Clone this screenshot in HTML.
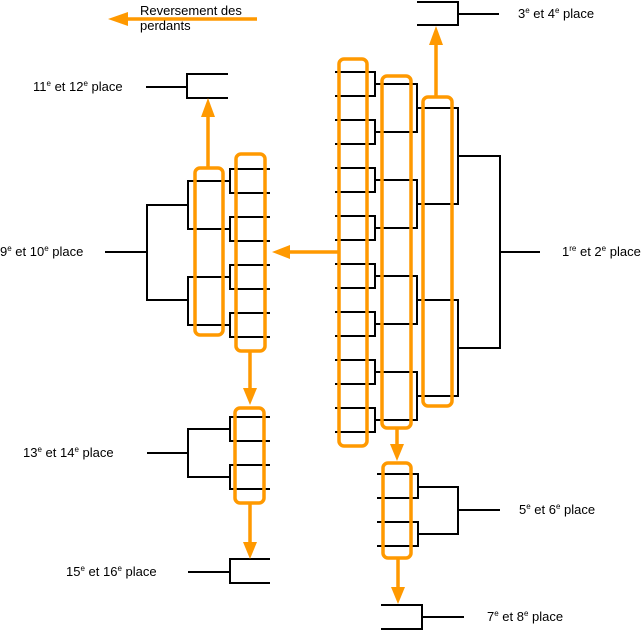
<!DOCTYPE html>
<html><head><meta charset="utf-8"><style>
html,body{margin:0;padding:0;background:#fff;}
svg{display:block;}
text{font-family:"Liberation Sans",Arial,sans-serif;font-size:13px;fill:#000;}
</style></head><body>
<svg width="642" height="631" viewBox="0 0 642 631" xmlns="http://www.w3.org/2000/svg">
<g stroke="#000" stroke-width="2" fill="none">
<path d="M335 72H375V96H335 M335 120H375V144H335 M335 168H375V192H335 M335 216H375V240H335 M335 264H375V288H335 M335 312H375V336H335 M335 360H375V384H335 M335 408H375V432H335"/>
<path d="M375 84H417V132H375 M375 180H417V228H375 M375 276H417V324H375 M375 372H417V420H375"/>
<path d="M417 108H458V204H417 M417 300H458V396H417"/>
<path d="M458 156H500V348H458 M500 252H540"/>
<path d="M417 2H458V25H417 M458 14H499"/>
<path d="M377 474H418V498H377 M377 522H418V546H377 M418 487H458V534H418 M458 510H500"/>
<path d="M381 605H422V629H381 M422 617H464"/>
<path d="M270 169H230V193H270 M270 217H230V241H270 M270 265H230V289H270 M270 313H230V337H270"/>
<path d="M230 181H188V229H230 M230 277H188V325H230"/>
<path d="M188 205H147V300H188 M147 252H105"/>
<path d="M228 74H187V98H228 M187 87H146"/>
<path d="M270 417H230V441H270 M270 465H230V489H270 M230 429H188V477H230 M188 453H147"/>
<path d="M270 559H230V583H270 M230 572H188"/>
</g>
<g stroke="#FF9900" stroke-width="3.5" fill="none">
<rect x="339" y="59" width="28" height="387" rx="5"/>
<rect x="382" y="76" width="29" height="352" rx="5"/>
<rect x="423" y="97" width="29" height="309" rx="5"/>
<rect x="195" y="168" width="28" height="167" rx="5"/>
<rect x="236" y="154" width="29" height="197" rx="5"/>
<rect x="235" y="408" width="29" height="95" rx="5"/>
<rect x="383" y="463" width="28" height="95" rx="5"/>
<path d="M436 97V44 M338 252H288 M397 428V446 M398 558V588 M208 168V116 M250 351V390 M250 503V544 M257 19H126"/>
</g>
<g fill="#FF9900">
<polygon points="436,26 429,45 443,45"/>
<polygon points="272,252 290,245 290,259"/>
<polygon points="397,461 390,444 404,444"/>
<polygon points="398,604 391,587 405,587"/>
<polygon points="208,98 201,117 215,117"/>
<polygon points="250,405 243,388 257,388"/>
<polygon points="250,559 243,542 257,542"/>
<polygon points="108,19 128,12 128,26"/>
</g>
<text x="140" y="15">Reversement des</text>
<text x="140" y="30">perdants</text>
<text x="33" y="91">11<tspan font-size="8" dy="-5">e</tspan><tspan dy="5"> et 12</tspan><tspan font-size="8" dy="-5">e</tspan><tspan dy="5"> place</tspan></text>
<text x="518" y="18">3<tspan font-size="8" dy="-5">e</tspan><tspan dy="5"> et 4</tspan><tspan font-size="8" dy="-5">e</tspan><tspan dy="5"> place</tspan></text>
<text x="0" y="256">9<tspan font-size="8" dy="-5">e</tspan><tspan dy="5"> et 10</tspan><tspan font-size="8" dy="-5">e</tspan><tspan dy="5"> place</tspan></text>
<text x="562" y="256">1<tspan font-size="8" dy="-5">re</tspan><tspan dy="5"> et 2</tspan><tspan font-size="8" dy="-5">e</tspan><tspan dy="5"> place</tspan></text>
<text x="23" y="457">13<tspan font-size="8" dy="-5">e</tspan><tspan dy="5"> et 14</tspan><tspan font-size="8" dy="-5">e</tspan><tspan dy="5"> place</tspan></text>
<text x="66" y="576">15<tspan font-size="8" dy="-5">e</tspan><tspan dy="5"> et 16</tspan><tspan font-size="8" dy="-5">e</tspan><tspan dy="5"> place</tspan></text>
<text x="519" y="514">5<tspan font-size="8" dy="-5">e</tspan><tspan dy="5"> et 6</tspan><tspan font-size="8" dy="-5">e</tspan><tspan dy="5"> place</tspan></text>
<text x="487" y="621">7<tspan font-size="8" dy="-5">e</tspan><tspan dy="5"> et 8</tspan><tspan font-size="8" dy="-5">e</tspan><tspan dy="5"> place</tspan></text>
</svg>
</body></html>
